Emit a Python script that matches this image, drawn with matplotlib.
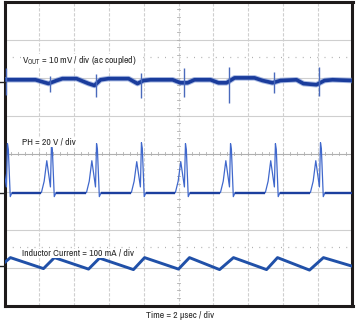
import numpy as np
import matplotlib.pyplot as plt

# --- Font setup ---
plt.rcParams['font.family'] = ['Liberation Sans Narrow', 'Arial Narrow', 'Archivo Narrow', 'Liberation Sans', 'DejaVu Sans']
plt.rcParams['mathtext.fontset'] = 'custom'
plt.rcParams['mathtext.rm'] = 'Archivo Narrow'

# --- Scope settings (10 div x 8 div screen) ---
time_per_div = 2.0          # usec / div
vout_scale = 10.0           # mV / div
ph_scale = 20.0             # V / div
il_scale = 100.0            # mA / div
vout_pos = 5.89             # channel ground marker, div from bottom
ph_pos = 2.97
il_pos = 1.05

# --- Vout ripple (usec, mV) ---
vout_t = [0.0, 1.78, 2.53, 2.99, 3.33, 4.14, 4.83, 5.17, 5.52, 5.98, 7.13, 7.64,
          7.99, 8.39, 9.66, 10.11, 10.52, 10.92, 11.84, 12.30, 12.76, 13.22, 14.37,
          14.83, 15.40, 15.86, 16.78, 17.18, 17.93, 18.39, 18.85, 20.0]
vout_mv = [0.5, 0.5, -0.5, 0.3, 0.8, 0.8, -0.5, -1.0, 0.5, 0.8, 0.8, -0.5,
           0.3, 0.5, 0.5, -0.3, -0.3, 0.5, 0.5, -0.3, -0.3, 1.0, 1.0,
           0.3, -0.3, 0.3, 0.5, -0.5, -0.8, 0.3, 0.5, 0.3]
# switching spikes on Vout (usec, mV top, mV bottom)
spike_t = [0.11, 2.64, 5.23, 7.82, 10.34, 12.93, 15.46, 18.10]
spike_hi = [3.7, 1.6, 2.1, 2.4, 3.7, 3.9, 2.6, 3.9]
spike_lo = [-3.4, -2.6, -3.9, -4.2, -3.9, -5.5, -2.9, -3.7]

# --- PH switch node pulses ---
ph_spike_t = [0.17, 2.70, 5.29, 7.87, 10.40, 12.99, 15.57, 18.16, 20.74]
ph_hump_v = [16.0, 16.8, 16.8, 16.3, 16.3, 16.8, 16.8, 16.8, 16.8]
ph_peak_v = [25.8, 25.8, 25.8, 26.3, 25.8, 25.8, 25.8, 26.3, 25.8]
ph_dt = [-0.58, -0.42, -0.27, -0.06, 0.0, 0.05, 0.16, 0.26]   # offsets within one pulse
ph_rise_v = 6.0
ph_dip_v = 3.0
ph_under_v = -2.1

# --- Inductor current (usec, mA) ---
il_t = [0.0, 0.34, 2.24, 2.87, 4.83, 5.46, 7.41, 8.05, 10.0, 10.63, 12.36, 13.16,
        15.06, 15.69, 17.53, 18.33, 20.06]
il_ma = [7.9, 21.0, -7.9, 21.0, -9.2, 19.7, -10.5, 21.0, -9.2, 21.0, -10.5, 21.0,
         -10.5, 21.0, -11.8, 21.0, -2.6]

# build PH waveform from the pulse table
ph_t, ph_v = [], []
for ts, hv, pv in zip(ph_spike_t, ph_hump_v, ph_peak_v):
    ph_t += [ts + d for d in ph_dt]
    ph_v += [0.0, ph_rise_v, hv, ph_dip_v, pv, pv - 3.0, ph_under_v, 0.0]
ph_t = np.array(ph_t)
ph_v = np.array(ph_v)

fig = plt.figure(figsize=(3.56, 3.23), dpi=100)
ax = fig.add_axes([4.5 / 356, (323 - 305.5) / 323, 348 / 356, 304 / 323])
ax.set_xlim(0, 10 * time_per_div)
ax.set_ylim(0, 8)

# grid
grid_c = '#cfcfcf'
for i in range(1, 10):
    ax.axvline(i * time_per_div, color=grid_c, lw=0.8, ls=(0, (3, 1.5)), zorder=1)
for j in range(1, 8):
    ax.axhline(j, color=grid_c if j != 4 else '#b0b0b0', lw=0.8, zorder=1)
# center graticule ticks
for k in range(1, 50):
    ax.plot([k * time_per_div / 5] * 2, [3.96, 4.04], color='#b0b0b0', lw=0.6, zorder=1)
for k in range(1, 40):
    ax.plot([10 - 0.1, 10 + 0.1], [k / 5] * 2, color='#b0b0b0', lw=0.6, zorder=1)
# dotted reference lines
for yd in [6.53, 1.53]:
    ax.axhline(yd, color='#b0b0b0', lw=0.9, ls=(0, (0.8, 5)), zorder=1)

# traces
vout_y = vout_pos + np.array(vout_mv) / vout_scale
ax.plot(vout_t, vout_y, color='#6f8bd0', lw=4.0, alpha=0.6,
        solid_capstyle='butt', zorder=3)
ax.plot(vout_t, vout_y, color='#1a3c9c', lw=2.6,
        solid_capstyle='butt', zorder=4)
ax.vlines(spike_t, vout_pos + np.array(spike_lo) / vout_scale,
          vout_pos + np.array(spike_hi) / vout_scale, color='#4a6abc', lw=1.0, zorder=5)

ax.plot(ph_t, ph_pos + ph_v / ph_scale, color='#4068cc', lw=0.9, zorder=4)
ax.hlines([ph_pos] * (len(ph_spike_t) - 1),
          np.array(ph_spike_t[:-1]) + ph_dt[-1], np.array(ph_spike_t[1:]) + ph_dt[0],
          color='#1c3f9e', lw=1.7, zorder=5)

ax.plot(il_t, il_pos + np.array(il_ma) / il_scale, color='#2050a8', lw=2.1, zorder=4)

# channel ground markers
for yp in [vout_pos, ph_pos, il_pos]:
    ax.plot([-0.25, 0.05], [yp, yp], color='#222222', lw=1.0, clip_on=False, zorder=6)

# labels
lbl = dict(fontsize=7, color='#2a2a2a', va='center', ha='left', zorder=6,
           bbox=dict(facecolor='white', edgecolor='none', pad=0.3))
ax.text(1.0, 6.45, r'V$_{\mathrm{OUT}}$ = 10 mV / div (ac coupled)', **lbl)
ax.text(1.0, 4.3, 'PH = 20 V / div', **lbl)
ax.text(1.0, 1.37, 'Inductor Current = 100 mA / div', **lbl)
fig.text(180 / 356, 1 - 316 / 323, 'Time = 2 \u00b5sec / div', fontsize=7,
         color='#2a2a2a', ha='center', va='center')

ax.set_xticks([])
ax.set_yticks([])
for s in ax.spines.values():
    s.set_linewidth(2.2)
    s.set_color('#1e1a1a')

fig.savefig('out.png', dpi=100)
